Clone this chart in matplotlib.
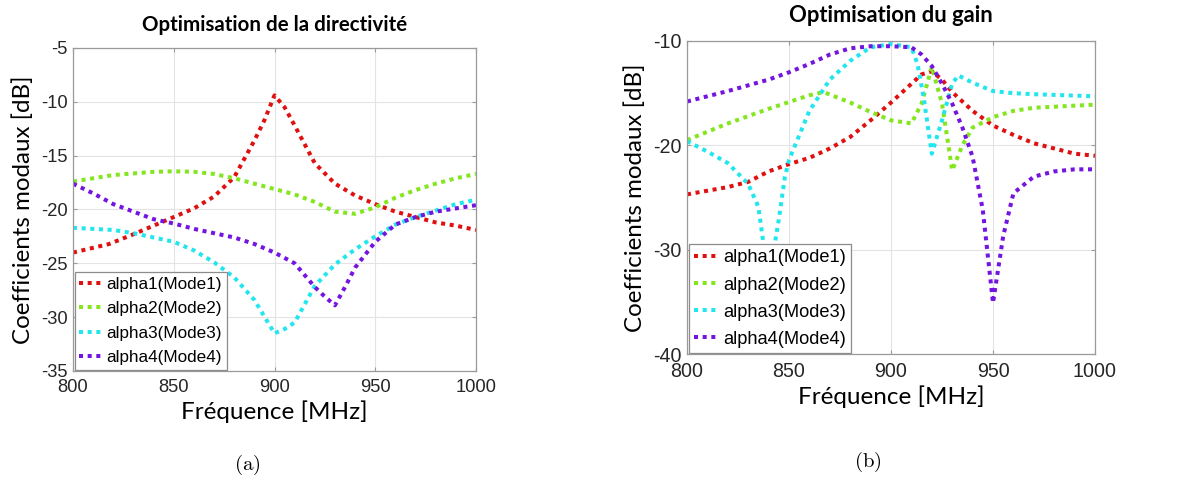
import numpy as np
import matplotlib
matplotlib.use("Agg")
import matplotlib.pyplot as plt

plt.rcParams["axes.unicode_minus"] = False
plt.rcParams["mathtext.fontset"] = "cm"

# --- (a) Optimisation de la directivite ---
a_x1 = [800, 818, 830, 850, 860, 870, 880, 890, 895, 900, 905, 910, 920, 930, 940, 950, 960, 970, 980, 990, 1000]
a_y1 = [-24.0, -23.2, -22.3, -20.7, -19.9, -18.8, -17.0, -13.6, -11.7, -9.4, -10.5, -12.2, -15.7, -17.6, -18.7, -19.5, -20.2, -20.7, -21.2, -21.5, -21.9]
a_x2 = [800, 820, 840, 850, 860, 870, 880, 890, 900, 910, 920, 930, 940, 950, 960, 970, 980, 990, 1000]
a_y2 = [-17.4, -16.8, -16.5, -16.45, -16.5, -16.7, -17.1, -17.6, -18.1, -18.6, -19.3, -20.2, -20.4, -19.8, -18.9, -18.2, -17.6, -17.1, -16.7]
a_x3 = [800, 820, 830, 850, 860, 870, 880, 890, 900, 905, 910, 920, 930, 940, 950, 960, 970, 980, 990, 1000]
a_y3 = [-21.7, -21.9, -22.2, -23.0, -23.8, -24.9, -26.3, -28.4, -31.5, -31.1, -30.5, -27.1, -25.1, -23.7, -22.5, -21.4, -20.7, -20.1, -19.5, -19.1]
a_x4 = [800, 810, 820, 830, 840, 850, 860, 870, 880, 890, 900, 910, 920, 925, 930, 935, 940, 950, 960, 970, 980, 990, 1000]
a_y4 = [-17.6, -18.5, -19.5, -20.2, -20.9, -21.3, -21.8, -22.2, -22.6, -23.2, -24.0, -25.0, -27.2, -28.1, -28.9, -27.2, -25.4, -23.0, -21.4, -20.7, -20.2, -19.9, -19.6]

# --- (b) Optimisation du gain ---
b_x1 = [800, 820, 830, 840, 850, 860, 870, 880, 890, 900, 910, 915, 920, 925, 930, 940, 950, 960, 970, 980, 990, 1000]
b_y1 = [-24.7, -24.0, -23.5, -22.5, -21.8, -21.2, -20.3, -19.2, -17.6, -15.9, -14.1, -13.2, -12.9, -13.7, -14.9, -16.7, -18.1, -19.0, -19.8, -20.3, -20.8, -21.0]
b_x2 = [800, 820, 840, 860, 867, 880, 890, 900, 910, 915, 920, 925, 930, 935, 940, 950, 960, 970, 980, 990, 1000]
b_y2 = [-19.5, -17.9, -16.5, -15.2, -14.9, -15.9, -16.8, -17.6, -17.9, -16.0, -12.5, -16.0, -22.4, -20.0, -18.3, -17.3, -16.7, -16.4, -16.3, -16.2, -16.1]
b_x3 = [800, 810, 820, 830, 835, 840, 845, 848, 850, 860, 870, 880, 890, 900, 910, 913, 916, 920, 925, 930, 933, 940, 950, 960, 970, 1000]
b_y3 = [-19.6, -20.6, -21.7, -23.7, -25.9, -33.0, -27.1, -23.0, -21.4, -16.7, -13.7, -11.9, -10.6, -10.3, -10.6, -12.2, -15.4, -20.8, -17.6, -14.1, -13.3, -14.0, -14.8, -15.0, -15.1, -15.3]
b_x4 = [800, 820, 840, 850, 860, 870, 880, 890, 900, 910, 915, 920, 925, 930, 935, 940, 945, 950, 955, 960, 970, 980, 990, 1000]
b_y4 = [-15.8, -14.8, -13.7, -13.0, -12.2, -11.3, -10.7, -10.5, -10.5, -10.6, -11.3, -12.4, -14.1, -16.0, -18.3, -21.1, -26.2, -35.1, -28.7, -24.6, -23.0, -22.5, -22.3, -22.3]

labels = ["alpha1(Mode1)", "alpha2(Mode2)", "alpha3(Mode3)", "alpha4(Mode4)"]
colors = ["#e01010", "#84e61e", "#22e6ee", "#7414e0"]
xticks = [800, 850, 900, 950, 1000]

W, H = 1187, 479
fig = plt.figure(figsize=(W / 100, H / 100), dpi=100)

def px(l, t, r, b):
    return [l / W, 1 - b / H, (r - l) / W, (b - t) / H]

head_font = "Lato"
tick_font = "Liberation Sans"


def panel(rect, series, ylim, yticks, title, title_pad, caption, cap_xy, k):
    ax = fig.add_axes(rect)
    for (x, y), lab, c in zip(series, labels, colors):
        ax.plot(x, y, color=c, lw=2.9, linestyle=(0, (1, 1.15)), label=lab)
    ax.set_xlim(800, 1000)
    ax.set_ylim(*ylim)
    ax.set_xticks(xticks)
    ax.set_yticks(yticks)
    ax.grid(True, color="#e3e3e3", lw=0.8)
    ax.set_axisbelow(True)
    for s in ax.spines.values():
        s.set_color("#9a9a9a")
        s.set_linewidth(0.9)
    ax.tick_params(direction="in", length=3, color="#9a9a9a", top=True, right=True,
                   labelsize=13.2 * k, labelcolor="#262626", pad=4)
    ax.tick_params(axis="x", pad=6)
    for t in ax.get_xticklabels() + ax.get_yticklabels():
        t.set_fontfamily(tick_font)
    ax.set_title(title, fontfamily=head_font, fontweight="bold", fontsize=14.8 * k, pad=title_pad)
    ax.set_xlabel("Fréquence [MHz]", fontfamily=head_font, fontsize=17.5, labelpad=3)
    ax.set_ylabel("Coefficients modaux [dB]", fontfamily=head_font, fontsize=17.4, labelpad=5)
    leg = ax.legend(loc="lower left", bbox_to_anchor=(0.004, 0.004),
                    prop={"family": tick_font, "size": 12.3 * k}, frameon=True, fancybox=False,
                    framealpha=1.0, borderaxespad=0, handlelength=1.35, handletextpad=0.25,
                    labelspacing=0.55, borderpad=0.28)
    leg.get_frame().set_edgecolor("#8c8c8c")
    leg.get_frame().set_linewidth(0.9)
    fig.text(cap_xy[0] / W, 1 - cap_xy[1] / H, caption, ha="center", va="center",
             fontsize=15)
    return ax


panel(px(73, 48, 476, 371),
      [(a_x1, a_y1), (a_x2, a_y2), (a_x3, a_y3), (a_x4, a_y4)],
      (-35, -5), [-35, -30, -25, -20, -15, -10, -5],
      "Optimisation de la directivité", 12.5, r"$\mathrm{(a)}$", (247, 465), 1.0)

panel(px(687, 41, 1095, 354),
      [(b_x1, b_y1), (b_x2, b_y2), (b_x3, b_y3), (b_x4, b_y4)],
      (-40, -10), [-40, -30, -20, -10],
      "Optimisation du gain", 13.5, r"$\mathrm{(b)}$", (868, 462), 1.07)

fig.savefig("out.png", dpi=100)
